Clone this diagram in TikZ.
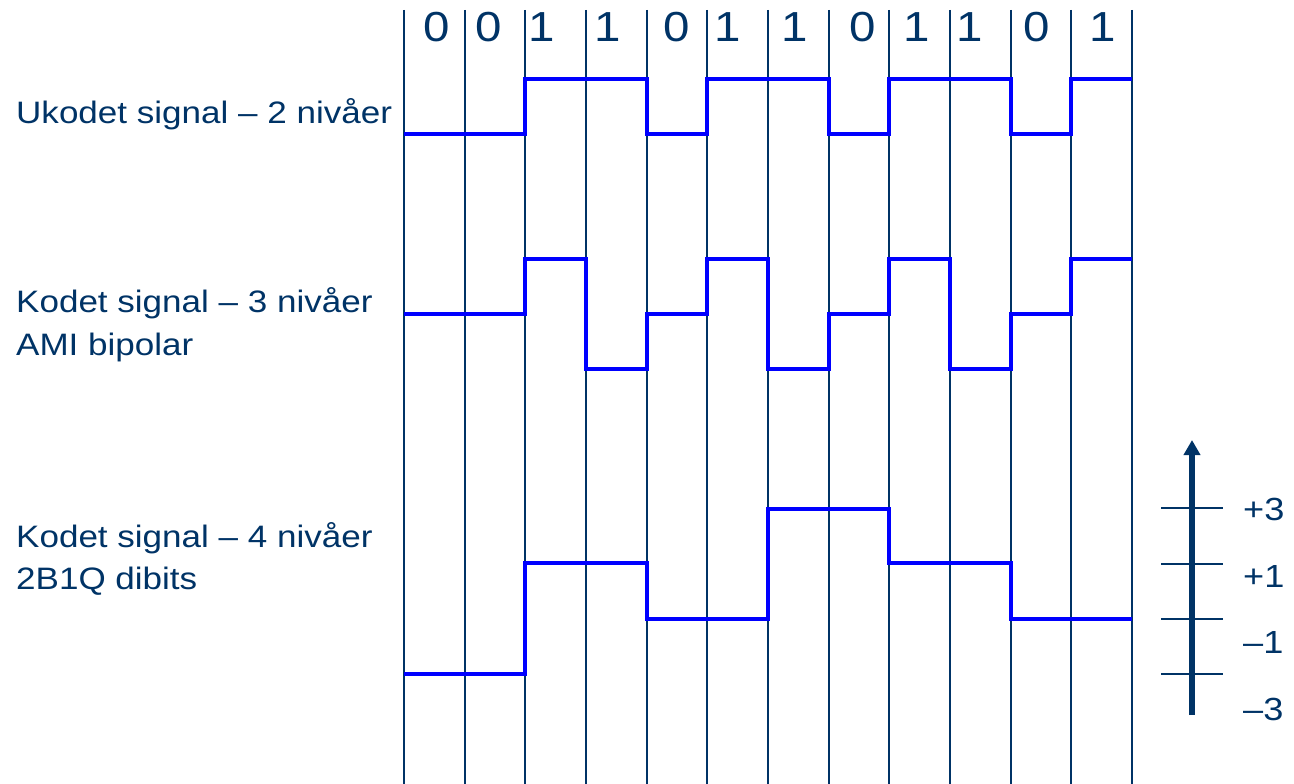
\documentclass[tikz,border=0pt]{standalone}
\usepackage{fontspec}
\setmainfont{Liberation Sans}[FakeStretch=1.13]
\usetikzlibrary{arrows.meta}
\definecolor{navy}{HTML}{003366}
\definecolor{sigblue}{HTML}{0000FF}

\begin{document}
\begin{tikzpicture}[x=1pt, y=-1pt]
    \tikzstyle{grid} = [draw=navy, line width=1.8pt]
    \tikzstyle{signal} = [draw=sigblue, line width=4.5pt, line join=miter]
    \tikzstyle{bit} = [text=navy, anchor=base, inner sep=0pt, font=\fontsize{42}{44}\selectfont]
    \tikzstyle{sigtext} = [text=navy, anchor=base west, inner sep=0pt, font=\fontsize{31}{36}\selectfont]
    \tikzstyle{level} = [text=navy, anchor=base west, inner sep=0pt, font=\fontsize{32}{36}\selectfont]

    \useasboundingbox (0,0) rectangle (1294,784);

    % bit cells
    \foreach \i in {0,...,12}
        \draw [grid] ({404+60.667*\i},10) -- ({404+60.667*\i},784);
    \foreach \b/\x [count=\n] in {0/437, 0/489, 1/542, 1/608, 0/677, 1/728, 1/795, 0/863, 1/917, 1/970, 0/1037, 1/1103}
        \node [bit] (bit\n) at (\x,42) {\b};

    % signal names
    \node [sigtext] (uncoded) at (16,123) {Ukodet signal -- 2 nivåer};
    \node [sigtext] (ami) at (16,312) {Kodet signal -- 3 nivåer};
    \node [sigtext] (amisub) at (16,355) {AMI bipolar};
    \node [sigtext] (twobq) at (16,547) {Kodet signal -- 4 nivåer};
    \node [sigtext] (twobqsub) at (16,589) {2B1Q dibits};

    % waveforms
    \draw [signal] (404,134) -| (525,79) -| (647,134) -| (707,79) -| (829,134) -| (889,79) -| (1011,134) -| (1071,79) -- (1132,79);
    \draw [signal] (404,314) -| (525,259) -| (586,369) -| (647,314) -| (707,259) -| (768,369) -| (829,314) -| (889,259) -| (950,369) -| (1011,314) -| (1071,259) -- (1132,259);
    \draw [signal] (404,674) -| (525,563) -| (647,619) -| (768,509) -| (889,563) -| (1011,619) -- (1132,619);

    % level axis
    \draw [navy, line width=5.5pt, -{Triangle[width=16pt,length=15pt]}] (1192,715) -- (1192,440);
    \foreach \y in {508,564,619,674}
        \draw [navy, line width=1.8pt] (1161,\y) -- (1223,\y);
    \node [level] (lvA) at (1243,520) {+3};
    \node [level] (lvB) at (1243,587) {+1};
    \node [level] (lvC) at (1243,653) {--1};
    \node [level] (lvD) at (1243,720) {--3};
\end{tikzpicture}
\end{document}
